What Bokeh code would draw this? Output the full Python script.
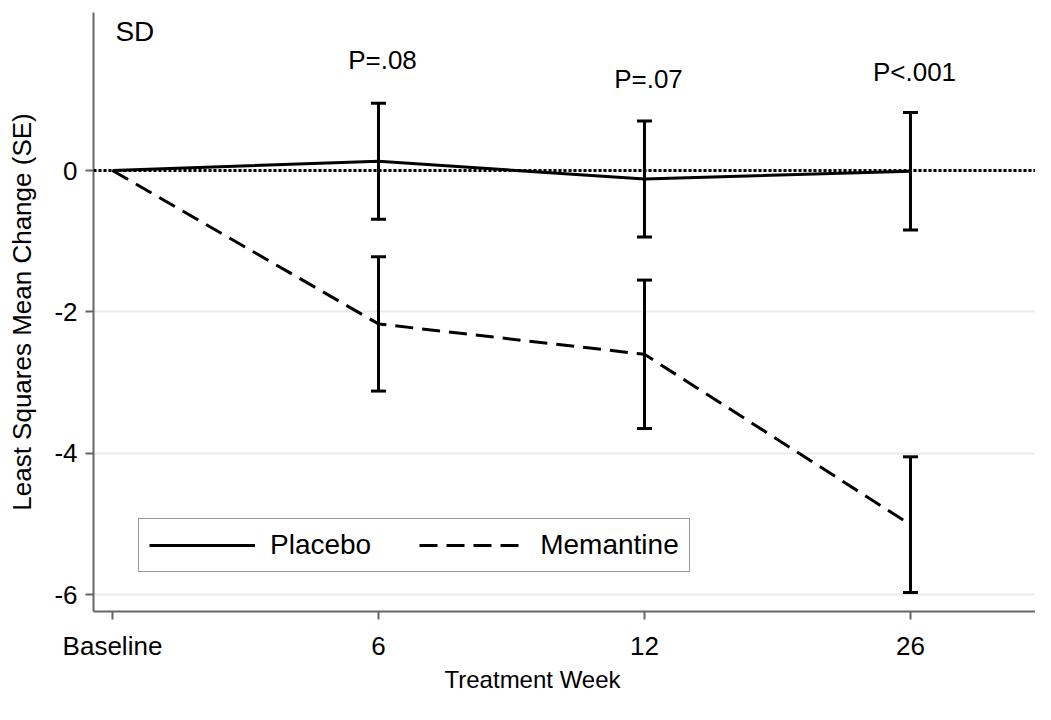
from bokeh.plotting import figure
from bokeh.models import (ColumnDataSource, Range1d, FixedTicker, Whisker, TeeHead,
                          Span, Legend, LegendItem, Label, Title)
from bokeh.core.properties import value
from bokeh.embed import file_html
from bokeh.resources import INLINE

# ---- data ----
categories = ["Baseline", "6", "12", "26"]
x_pos = [0, 1, 2, 3]
placebo_mean = [0.0, 0.13, -0.12, -0.01]
placebo_se = [0.0, 0.82, 0.82, 0.83]
memantine_mean = [0.0, -2.17, -2.60, -5.01]
memantine_se = [0.0, 0.95, 1.05, 0.96]
p_x = [1, 2, 3]
p_labels = ["P=.08", "P=.07", "P<.001"]
p_label_y = [1.56, 1.30, 1.39]
y_ticks = [0, -2, -4, -6]
y_tick_labels = ["0", "-2", "-4", "-6"]

FONT = "Liberation Sans"
FS = "26px"

p = figure(width=1035, height=704, output_backend="svg", toolbar_location=None,
           x_range=Range1d(-0.0714, 3.47), y_range=Range1d(-6.238, 2.235),
           min_border_left=93, min_border_right=0, min_border_top=12, min_border_bottom=93)
p.outline_line_color = None
p.background_fill_color = "white"
p.border_fill_color = "white"

# axes
for ax in (p.xaxis[0], p.yaxis[0]):
    ax.axis_line_color = "#666666"
    ax.axis_line_width = 2
    ax.major_tick_line_color = "#666666"
    ax.major_tick_line_width = 2
    ax.major_tick_out = 8
    ax.major_tick_in = 0
    ax.minor_tick_line_color = None
    ax.major_label_text_font = FONT
    ax.major_label_text_font_size = FS
    ax.major_label_text_color = "black"
    ax.axis_label_text_font = FONT
    ax.axis_label_text_font_size = FS
    ax.axis_label_text_font_style = "normal"
    ax.axis_label_text_color = "black"

p.xaxis.ticker = FixedTicker(ticks=x_pos)
p.xaxis.major_label_overrides = {x: c for x, c in zip(x_pos, categories)}
p.xaxis.major_label_standoff = 11

p.yaxis.ticker = FixedTicker(ticks=y_ticks)
p.yaxis.major_label_overrides = {t: s for t, s in zip(y_ticks, y_tick_labels)}
p.yaxis.axis_label = "Least Squares Mean Change (SE)"
p.yaxis.major_label_standoff = 8
p.yaxis.axis_label_standoff = 14

p.xgrid.grid_line_color = None
p.ygrid.grid_line_color = "#ebebeb"
p.ygrid.grid_line_width = 2

# zero reference line
p.add_layout(Span(location=0, dimension="width", line_color="black",
                  line_dash="3 2", line_width=3))

# sources
src_p = ColumnDataSource(dict(x=x_pos, y=placebo_mean,
                              lo=[m - s for m, s in zip(placebo_mean, placebo_se)],
                              hi=[m + s for m, s in zip(placebo_mean, placebo_se)]))
src_m = ColumnDataSource(dict(x=x_pos, y=memantine_mean,
                              lo=[m - s for m, s in zip(memantine_mean, memantine_se)],
                              hi=[m + s for m, s in zip(memantine_mean, memantine_se)]))
src_p_err = ColumnDataSource(dict(x=x_pos[1:], lo=src_p.data["lo"][1:], hi=src_p.data["hi"][1:]))
src_m_err = ColumnDataSource(dict(x=x_pos[1:], lo=src_m.data["lo"][1:], hi=src_m.data["hi"][1:]))

r_p = p.line("x", "y", source=src_p, line_color="black", line_width=3)
r_m = p.line("x", "y", source=src_m, line_color="black", line_width=3, line_dash="18 9")

for s in (src_p_err, src_m_err):
    w = Whisker(source=s, base="x", upper="hi", lower="lo", dimension="height",
                line_color="black", line_width=3,
                upper_head=TeeHead(size=15, line_color="black", line_width=3),
                lower_head=TeeHead(size=15, line_color="black", line_width=3))
    p.add_layout(w)

# p-value labels
src_txt = ColumnDataSource(dict(x=p_x, y=p_label_y, t=p_labels))
p.text("x", "y", text="t", source=src_txt, text_font=value(FONT), text_font_size=FS,
       text_align="center", text_baseline="middle", text_color="black", x_offset=4)

p.add_layout(Label(x=0.011, y=2.19, text="SD", text_font=FONT, text_font_size="28px",
                   text_baseline="top", text_align="left", text_color="black"))

# x-axis title, placed like the original (slightly left of the frame centre)
p.add_layout(Title(text="Treatment Week", align="left", offset=351, standoff=0,
                   text_font=FONT, text_font_size="24px", text_font_style="normal",
                   text_line_height=0.8, text_color="black"), "below")

legend = Legend(items=[LegendItem(label="Placebo", renderers=[r_p]),
                       LegendItem(label="Memantine", renderers=[r_m])],
                orientation="horizontal", location=(45, 39), margin=0,
                padding=10, spacing=48, label_standoff=15, glyph_width=106,
                glyph_height=30, label_height=30,
                label_text_font=FONT, label_text_font_size="28px", label_text_color="black",
                border_line_color="#333333", border_line_width=1.5,
                background_fill_color="white", background_fill_alpha=1)
p.add_layout(legend, "center")

open("out.html", "w").write(file_html(p, INLINE))
